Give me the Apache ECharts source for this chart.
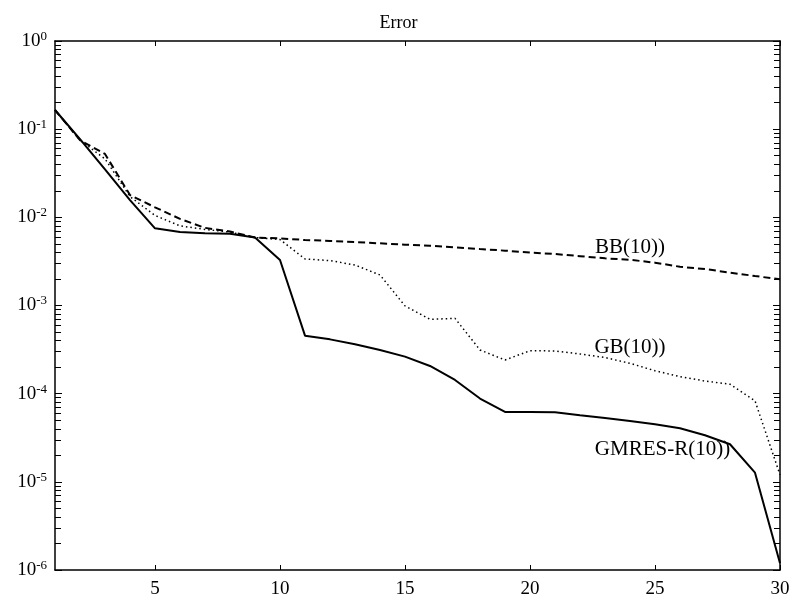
<!DOCTYPE html>
<html>
<head>
<meta charset="utf-8">
<script src="https://cdn.jsdelivr.net/npm/echarts@6/dist/echarts.min.js"></script>
<style>
  html, body { margin: 0; padding: 0; background: #fff; }
  #main { width: 797px; height: 601px; }
</style>
</head>
<body>
<div id="main"></div>
<script>
var dom = document.getElementById('main')
var chart = echarts.init(dom)

// iteration number
var iters = [1, 2, 3, 4, 5, 6, 7, 8, 9, 10, 11, 12, 13, 14, 15, 16, 17, 18, 19, 20, 21, 22, 23, 24, 25, 26, 27, 28, 29, 30];

var gmres = [0.165, 0.077, 0.035, 0.0157, 0.0075, 0.0068, 0.0066, 0.0065, 0.0059, 0.00328,
    4.55e-4, 4.13e-4, 3.63e-4, 3.13e-4, 2.63e-4, 2.06e-4, 1.43e-4, 8.8e-5, 6.2e-5, 6.2e-5,
    6.15e-5, 5.7e-5, 5.3e-5, 4.9e-5, 4.5e-5, 4.05e-5, 3.37e-5, 2.67e-5, 1.27e-5, 1.19e-6];

var bb = [0.165, 0.075, 0.0523, 0.0179, 0.013, 0.0096, 0.0076, 0.0069, 0.0059, 0.00578,
    0.00553, 0.0054, 0.00525, 0.00507, 0.0049, 0.00477, 0.00457, 0.00437, 0.00419, 0.00398,
    0.00384, 0.00363, 0.00343, 0.0033, 0.00306, 0.00275, 0.00259, 0.00236, 0.00216, 0.00198];

var gb = [0.165, 0.075, 0.046, 0.0172, 0.0105, 0.008, 0.0073, 0.0068, 0.0059, 0.0056,
    0.00337, 0.00323, 0.00288, 0.00222, 9.9e-4, 6.97e-4, 7.15e-4, 3.13e-4, 2.41e-4, 3.07e-4,
    3.05e-4, 2.82e-4, 2.57e-4, 2.21e-4, 1.82e-4, 1.56e-4, 1.39e-4, 1.28e-4, 8.3e-5, 1.2e-5];

var xTicks = [5, 10, 15, 20, 25, 30];

var serif = 'Liberation Serif'

function pairs(ys) {
    return iters.map((x, i) => [x, ys[i]])
}

function curveLabel(text, x, y) {
    return {
        symbol: 'circle',
        symbolSize: 1,
        itemStyle: { color: 'rgba(0,0,0,0)' },
        data: [{ coord: [x, y] }],
        label: {
            show: true,
            position: 'inside',
            formatter: text,
            color: '#000',
            fontFamily: serif,
            fontSize: 21
        }
    }
}

var xBase = {
    type: 'value',
    min: 1,
    max: 30,
    splitLine: { show: false },
    axisLine: { show: true, onZero: false, lineStyle: { color: '#000', width: 1.5 } },
    axisTick: { show: true, inside: true, length: 5, customValues: xTicks, lineStyle: { color: '#000' } }
}

var yBase = {
    type: 'log',
    logBase: 10,
    min: 1e-6,
    max: 1,
    splitLine: { show: false },
    axisLine: { show: true, lineStyle: { color: '#000', width: 1.5 } },
    axisTick: { show: true, inside: true, length: 7, lineStyle: { color: '#000' } },
    minorTick: { show: true, splitNumber: 9, length: 6, lineStyle: { color: '#000' } }
}

var options = {
    animation: false,
    backgroundColor: '#fff',
    title: {
        text: 'Error',
        left: 'center',
        top: 9,
        textStyle: { fontFamily: serif, fontSize: 18, fontWeight: 'normal', color: '#000' }
    },
    grid: { left: 55, right: 17, top: 41, bottom: 31 },
    xAxis: [
        Object.assign({}, xBase, {
            position: 'bottom',
            axisLabel: {
                customValues: xTicks,
                margin: 10,
                color: '#000',
                fontFamily: serif,
                fontSize: 19
            }
        }),
        Object.assign({}, xBase, { position: 'top', axisLabel: { show: false } })
    ],
    yAxis: [
        Object.assign({}, yBase, {
            position: 'left',
            axisLabel: {
                margin: 8,
                showMinLabel: true,
                showMaxLabel: true,
                formatter: function (v) {
                    var e = Math.round(Math.log10(v))
                    return '{b|10}{e|' + e + '}'
                },
                rich: {
                    b: { fontFamily: serif, fontSize: 19, color: '#000' },
                    e: { fontFamily: serif, fontSize: 13, color: '#000', verticalAlign: 'top', padding: [0, 0, 9, 0] }
                }
            }
        }),
        Object.assign({}, yBase, { position: 'right', axisLabel: { show: false } })
    ],
    series: [
        {
            name: 'GMRES-R(10))',
            type: 'line',
            data: pairs(gmres),
            showSymbol: false,
            lineStyle: { color: '#000', width: 2, type: 'solid' },
            markPoint: curveLabel('GMRES-R(10))', 25.3, 2.3e-5)
        },
        {
            name: 'BB(10))',
            type: 'line',
            data: pairs(bb),
            showSymbol: false,
            lineStyle: { color: '#000', width: 2, type: [7, 4] },
            markPoint: curveLabel('BB(10))', 24, 4.6e-3)
        },
        {
            name: 'GB(10))',
            type: 'line',
            data: pairs(gb),
            showSymbol: false,
            lineStyle: { color: '#000', width: 1.5, type: [1.5, 3] },
            markPoint: curveLabel('GB(10))', 24, 3.3e-4)
        }
    ]
}

chart.setOption(options)
</script>
</body>
</html>
